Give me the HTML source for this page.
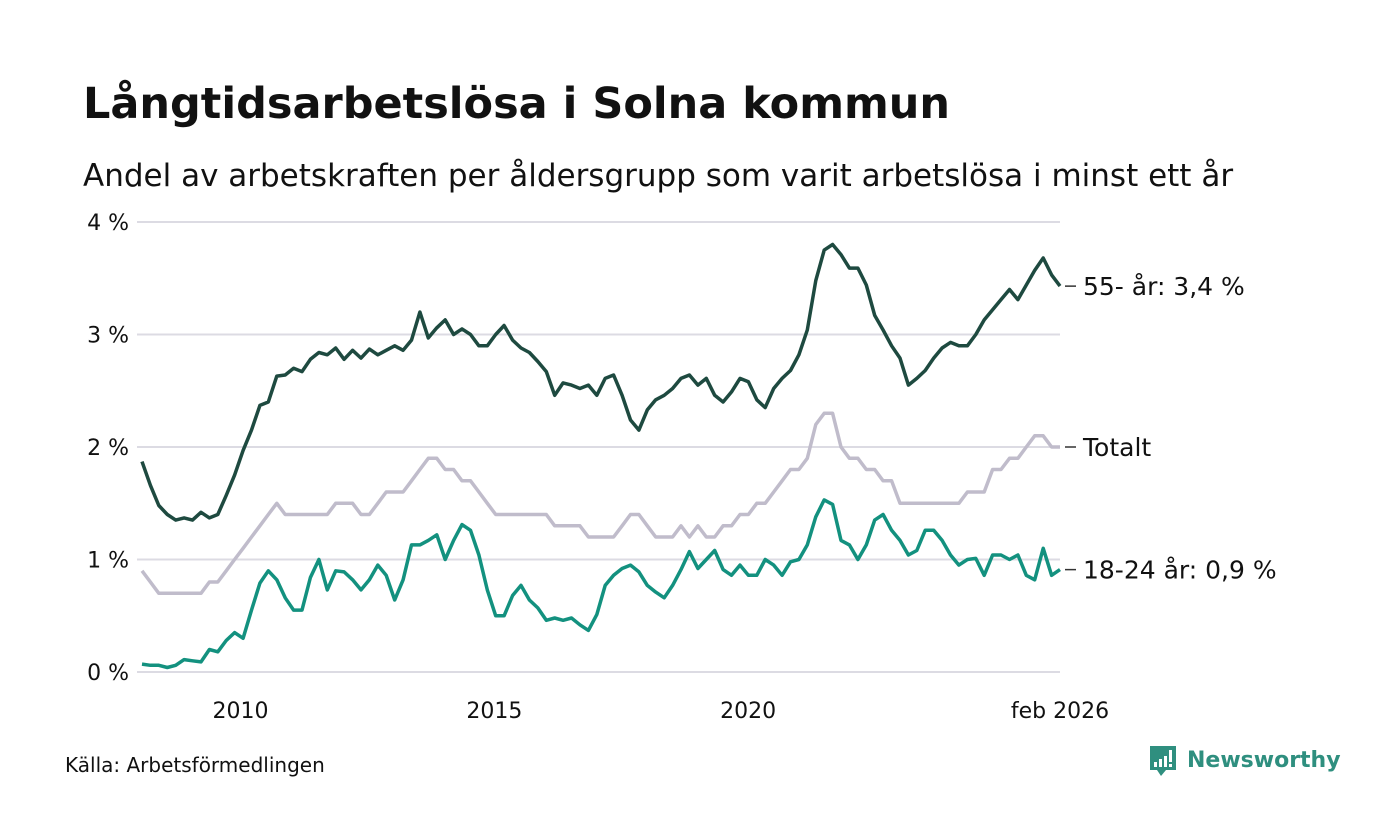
<!DOCTYPE html>
<html><head><meta charset="utf-8"><style>
body{margin:0;background:#fff;font-family:"Liberation Sans","DejaVu Sans",sans-serif;}
#c{position:relative;width:1400px;height:840px;overflow:hidden}
</style></head><body>
<div id="c">
<svg id="s" width="1400" height="840">
<text x="83" y="118" font-size="43" font-weight="bold" fill="#111" font-family="DejaVu Sans, sans-serif">Långtidsarbetslösa i Solna kommun</text>
<text x="83" y="186" font-size="31" fill="#111" font-family="DejaVu Sans, sans-serif">Andel av arbetskraften per åldersgrupp som varit arbetslösa i minst ett år</text>
<g id="grid"></g><g id="lines"></g><g id="labels"></g>
<text x="65" y="772" font-size="20" fill="#111" font-family="DejaVu Sans, sans-serif">Källa: Arbetsförmedlingen</text>
<g>
<path d="M1150 746h26v24h-10l-5 6-4-6h-7z" fill="#2f8f7f"/>
<rect x="1154" y="762" width="3" height="5" fill="#fff"/><rect x="1159" y="759" width="3" height="8" fill="#fff"/><rect x="1164" y="756" width="3" height="11" fill="#fff"/><rect x="1169" y="750" width="3" height="12" fill="#fff"/><rect x="1169" y="764" width="3" height="3" fill="#fff"/>
<text x="1187" y="767" font-size="22" font-weight="600" fill="#2f8f7f" font-family="DejaVu Sans, sans-serif">Newsworthy</text>
</g>
</svg>
</div>
<script>
const startYear = 2008.0;
const endYear = 2026.0833;
const yTicks = [0,1,2,3,4];
const xTickYears = [2010,2015,2020];
const xTickLabels = ["2010","2015","2020","feb 2026"];
const age55 = [1.87,1.66,1.48,1.40,1.35,1.37,1.35,1.42,1.37,1.40,1.57,1.75,1.97,2.15,2.37,2.40,2.63,2.64,2.70,2.67,2.78,2.84,2.82,2.88,2.78,2.86,2.79,2.87,2.82,2.86,2.90,2.86,2.95,3.20,2.97,3.06,3.13,3.00,3.05,3.00,2.90,2.90,3.00,3.08,2.95,2.88,2.84,2.76,2.67,2.46,2.57,2.55,2.52,2.55,2.46,2.61,2.64,2.46,2.24,2.15,2.33,2.42,2.46,2.52,2.61,2.64,2.55,2.61,2.46,2.40,2.49,2.61,2.58,2.42,2.35,2.52,2.61,2.68,2.82,3.04,3.48,3.75,3.80,3.71,3.59,3.59,3.44,3.17,3.04,2.90,2.79,2.55,2.61,2.68,2.79,2.88,2.93,2.90,2.90,3.00,3.13,3.22,3.31,3.40,3.31,3.44,3.57,3.68,3.53,3.43];
const total = [0.9,0.8,0.7,0.7,0.7,0.7,0.7,0.7,0.8,0.8,0.9,1.0,1.1,1.2,1.3,1.4,1.5,1.4,1.4,1.4,1.4,1.4,1.4,1.5,1.5,1.5,1.4,1.4,1.5,1.6,1.6,1.6,1.7,1.8,1.9,1.9,1.8,1.8,1.7,1.7,1.6,1.5,1.4,1.4,1.4,1.4,1.4,1.4,1.4,1.3,1.3,1.3,1.3,1.2,1.2,1.2,1.2,1.3,1.4,1.4,1.3,1.2,1.2,1.2,1.3,1.2,1.3,1.2,1.2,1.3,1.3,1.4,1.4,1.5,1.5,1.6,1.7,1.8,1.8,1.9,2.2,2.3,2.3,2.0,1.9,1.9,1.8,1.8,1.7,1.7,1.5,1.5,1.5,1.5,1.5,1.5,1.5,1.5,1.6,1.6,1.6,1.8,1.8,1.9,1.9,2.0,2.1,2.1,2.0,2.0];
const age1824 = [0.07,0.06,0.06,0.04,0.06,0.11,0.10,0.09,0.20,0.18,0.28,0.35,0.30,0.55,0.79,0.90,0.82,0.66,0.55,0.55,0.84,1.00,0.73,0.90,0.89,0.82,0.73,0.82,0.95,0.86,0.64,0.82,1.13,1.13,1.17,1.22,1.00,1.17,1.31,1.26,1.04,0.73,0.50,0.50,0.68,0.77,0.64,0.57,0.46,0.48,0.46,0.48,0.42,0.37,0.51,0.77,0.86,0.92,0.95,0.89,0.77,0.71,0.66,0.77,0.91,1.07,0.92,1.00,1.08,0.91,0.86,0.95,0.86,0.86,1.00,0.95,0.86,0.98,1.00,1.13,1.38,1.53,1.49,1.17,1.13,1.00,1.13,1.35,1.40,1.26,1.17,1.04,1.08,1.26,1.26,1.17,1.04,0.95,1.00,1.01,0.86,1.04,1.04,1.00,1.04,0.86,0.82,1.10,0.86,0.91];
const seriesNames = ["55- år: 3,4 %","Totalt","18-24 år: 0,9 %"];

const NS="http://www.w3.org/2000/svg";
const X0=142,X1=1060,Y0=672,PPU=112.5;
const xScale = yr => X0+(yr-startYear)/(endYear-startYear)*(X1-X0);
const yScale = v => Y0-v*PPU;
const dateAt = (i,n) => startYear+i*(endYear-startYear)/(n-1);
function mk(tag,attrs,parent){const e=document.createElementNS(NS,tag);for(const k in attrs)e.setAttribute(k,attrs[k]);parent.appendChild(e);return e;}
const grid=document.getElementById('grid'),lines=document.getElementById('lines'),labels=document.getElementById('labels');
yTicks.forEach(t=>{
  const l=mk('line',{x1:137,x2:1060,y1:yScale(t),y2:yScale(t),stroke:'#dcdbe3','stroke-width':2},grid);
  
  
  const tx=mk('text',{x:129,y:yScale(t)+8,'text-anchor':'end','font-size':22,fill:'#111','font-family':'DejaVu Sans, sans-serif'},grid);
  tx.textContent=t+' %';
  
  
});
xTickYears.forEach((yr,i)=>{
  const tx=mk('text',{x:xScale(yr)-3,y:718,'text-anchor':'middle','font-size':22,fill:'#111','font-family':'DejaVu Sans, sans-serif'},grid);
  tx.textContent=xTickLabels[i];
  
  
});
const lastTx=mk('text',{x:xScale(endYear),y:718,'text-anchor':'middle','font-size':22,fill:'#111','font-family':'DejaVu Sans, sans-serif'},grid);
lastTx.textContent=xTickLabels[3];


const defs=[[total,'#c0bccb','line-totalt'],[age1824,'#13917f','line-18-24'],[age55,'#1e4a40','line-55-plus']];
defs.forEach(([arr,col,name])=>{
  const d=arr.map((v,i)=>(i?'L':'M')+xScale(dateAt(i,arr.length)).toFixed(1)+' '+yScale(v).toFixed(1)).join(' ');
  const p=mk('path',{d:d,fill:'none',stroke:col,'stroke-width':3.5,'stroke-linejoin':'round'},lines);
  
  
});
[[age55,0],[total,1],[age1824,2]].forEach(([arr,k])=>{
  const y=yScale(arr[arr.length-1]);
  const l=mk('line',{x1:1065,x2:1076,y1:y,y2:y,stroke:'#333','stroke-width':1.5},labels);
  
  
  const tx=mk('text',{x:1083,y:y+9,'font-size':25,fill:'#111','font-family':'DejaVu Sans, sans-serif'},labels);
  tx.textContent=seriesNames[k];
  
  
});
</script>
</body></html>
